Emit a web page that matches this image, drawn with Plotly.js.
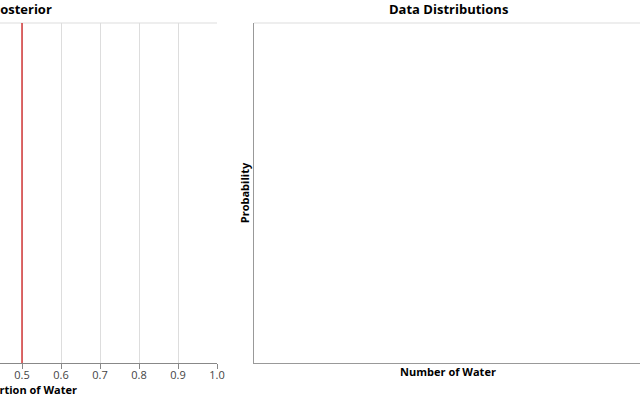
<!DOCTYPE html>
<html>
<head>
<meta charset="utf-8">
<script src="https://cdn.plot.ly/plotly-3.0.1.min.js"></script>
<style>
html,body{margin:0;padding:0;overflow:hidden;width:640px;height:400px;background:#fff;}
#chart{position:absolute;left:-200px;top:0;width:1000px;height:400px;}
</style>
</head>
<body>
<div id="chart"></div>
<script>
// Data
const trueProportion = [0.5, 0.5];
const lineExtent = [0, 1];
const proportionTicks = [0, 0.1, 0.2, 0.3, 0.4, 0.5, 0.6, 0.7, 0.8, 0.9, 1.0];
const proportionTickLabels = ['0.0','0.1','0.2','0.3','0.4','0.5','0.6','0.7','0.8','0.9','1.0'];
const panelTitles = ['Posterior', 'Data Distributions'];

const FONT = '"Open Sans", "DejaVu Sans", sans-serif';

const traces = [
  {
    x: trueProportion, y: lineExtent, xaxis: 'x', yaxis: 'y',
    type: 'scatter', mode: 'lines',
    line: {color: '#d01c1c', width: 1.3},
    hoverinfo: 'skip', showlegend: false
  },
  {
    x: [], y: [], xaxis: 'x2', yaxis: 'y2', type: 'scatter', mode: 'lines', showlegend: false
  }
];

const layout = {
  width: 1000, height: 400,
  margin: {l: 0, r: 0, t: 23, b: 37},
  paper_bgcolor: '#fff', plot_bgcolor: '#fff',
  font: {family: FONT, color: '#333'},
  showlegend: false,
  xaxis: {
    domain: [0.027, 0.417], range: [0, 1],
    tickvals: proportionTicks, ticktext: proportionTickLabels,
    showgrid: true, gridcolor: '#dddddd', gridwidth: 1,
    zeroline: false,
    showline: true, linecolor: '#888888', linewidth: 1,
    ticks: 'outside', ticklen: 5, tickcolor: '#888888',
    ticklabelstandoff: -3,
    tickfont: {size: 11, color: '#444', family: FONT},
    title: {text: '<b>Proportion of Water</b>', font: {size: 11, color: '#000', family: FONT}, standoff: 2}
  },
  yaxis: {
    domain: [0, 1], range: [0, 1],
    showgrid: false, zeroline: false, showline: false,
    showticklabels: false, ticks: ''
  },
  xaxis2: {
    domain: [0.454, 0.842], range: [0, 1], anchor: 'y2',
    showgrid: false, zeroline: false,
    showline: true, linecolor: '#999999', linewidth: 1,
    showticklabels: false, ticks: '',
    title: {text: '<b>Number of Water</b>', font: {size: 11, color: '#000', family: FONT}, standoff: 5}
  },
  yaxis2: {
    domain: [0, 1], range: [0, 1], anchor: 'x2',
    showgrid: false, zeroline: false,
    showline: true, linecolor: '#999999', linewidth: 1,
    showticklabels: false, ticks: '',
    title: {text: '<b>Probability</b>', font: {size: 11, color: '#000', family: FONT}, standoff: 1}
  },
  shapes: [
    {type: 'line', xref: 'x domain', yref: 'y domain', x0: 0, x1: 1, y0: 1, y1: 1,
     line: {color: '#dddddd', width: 1}, layer: 'below'},
    {type: 'line', xref: 'x2 domain', yref: 'y2 domain', x0: 0, x1: 1, y0: 1, y1: 1,
     line: {color: '#dddddd', width: 1}, layer: 'below'}
  ],
  annotations: [
    {text: '<b>' + panelTitles[0] + '</b>', xref: 'x domain', yref: 'paper', x: 0.5, y: 1,
     yshift: 3, xanchor: 'center', yanchor: 'bottom', showarrow: false,
     font: {size: 13, color: '#000', family: FONT}},
    {text: '<b>' + panelTitles[1] + '</b>', xref: 'x2 domain', yref: 'paper', x: 0.5, y: 1,
     yshift: 3, xanchor: 'center', yanchor: 'bottom', showarrow: false,
     font: {size: 13, color: '#000', family: FONT}}
  ]
};

Plotly.newPlot('chart', traces, layout, {displayModeBar: false, staticPlot: true});
</script>
</body>
</html>
